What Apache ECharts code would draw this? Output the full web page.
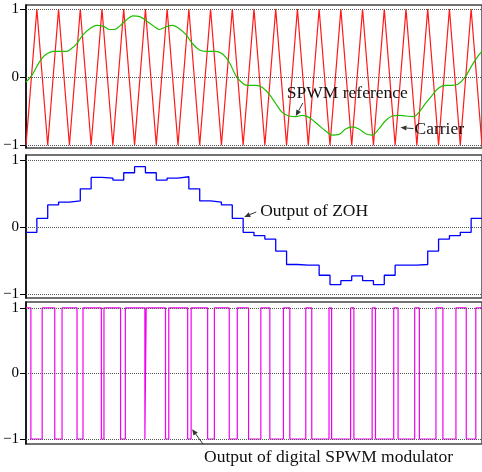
<!DOCTYPE html>
<html>
<head>
<meta charset="utf-8">
<script src="https://cdn.jsdelivr.net/npm/echarts@6/dist/echarts.min.js"></script>
<style>
  html, body { margin: 0; padding: 0; background: #fff; }
  #chart { width: 482px; height: 472px; }
</style>
</head>
<body>
<div id="chart"></div>
<script>
// Time is measured in half carrier periods (one unit per carrier ramp).
const tickValues = [-1, 0, 1];

// Triangular carrier: level at each half-period boundary.
const carrierLevels = [-1, 1, -1, 1, -1, 1, -1, 1, -1, 1, -1, 1, -1, 1, -1, 1, -1, 1, -1, 1, -1, 1,
  -1, 1, -1, 1, -1, 1, -1, 1, -1, 1, -1, 1, -1, 1, -1, 1, -1, 1, -1, 1, -1];

// SPWM reference waveform (time, value).
const refTime = [0, 0.51, 0.97, 1.43, 1.89, 2.50, 3.11, 3.73, 4.19, 4.65, 5.25, 5.87, 6.48, 7.09, 7.70,
  8.16, 8.62, 9.24, 9.84, 10.46, 11.07, 11.68, 12.30, 12.91, 13.52, 14.13, 14.75, 15.35, 15.97, 16.58,
  17.50, 18.11, 18.72, 19.34, 19.95, 20.40, 21.18, 21.78, 22.40, 23.01, 23.62, 24.23, 24.85, 25.45,
  26.07, 26.69, 26.99, 27.60, 28.21, 28.83, 29.44, 30.05, 30.66, 31.28, 31.88, 32.50, 33.11, 33.72,
  34.33, 34.95, 35.71, 36.17, 36.78, 37.39, 38.01, 38.59, 39.21, 39.82, 40.44, 41.06, 41.68, 42];
const refValue = [-0.07, 0.02, 0.15, 0.27, 0.34, 0.38, 0.38, 0.38, 0.42, 0.49, 0.62, 0.71, 0.76, 0.75, 0.70,
  0.70, 0.75, 0.84, 0.90, 0.89, 0.83, 0.76, 0.70, 0.74, 0.76, 0.71, 0.62, 0.49, 0.40, 0.38,
  0.38, 0.34, 0.22, 0.02, -0.09, -0.12, -0.12, -0.15, -0.25, -0.39, -0.52, -0.57, -0.58, -0.56,
  -0.59, -0.67, -0.71, -0.79, -0.85, -0.84, -0.76, -0.73, -0.76, -0.83, -0.85, -0.76, -0.64, -0.57,
  -0.56, -0.57, -0.58, -0.52, -0.39, -0.27, -0.16, -0.12, -0.12, -0.10, 0.0, 0.17, 0.32, 0.38];

// Zero-order-hold samples, one per half carrier period.
const zohValues = [-0.08, 0.13, 0.33, 0.37, 0.39, 0.57, 0.74, 0.73, 0.70, 0.81, 0.90, 0.81, 0.70, 0.73,
  0.75, 0.57, 0.39, 0.37, 0.33, 0.13, -0.08, -0.13, -0.18, -0.36, -0.56, -0.57, -0.57, -0.72, -0.86,
  -0.80, -0.73, -0.80, -0.86, -0.72, -0.57, -0.57, -0.56, -0.36, -0.18, -0.13, -0.08, 0.13];

// Switching instants of the digital SPWM output (starts high, toggles at each edge).
const pwmStartLevel = 1;
const pwmEdges = [0.45, 1.49, 2.65, 3.32, 4.70, 5.25, 6.94, 7.18, 8.71, 9.15, 10.95, 11.07, 12.85, 13.15,
  14.89, 15.21, 16.73, 17.35, 18.72, 19.46, 20.50, 21.63, 22.46, 23.71, 24.30, 25.77, 26.32, 27.91,
  28.15, 29.90, 30.20, 31.88, 32.19, 33.87, 34.27, 35.80, 36.23, 37.76, 38.40, 39.60, 40.55, 41.43];

const tEnd = carrierLevels.length - 1;

const carrierData = carrierLevels.map((v, i) => [i, v]);
const refData = refTime.map((t, i) => [t, refValue[i]]);
const zohData = zohValues.map((v, i) => [i, v]).concat([[tEnd, zohValues[zohValues.length - 1]]]);
const pwmData = [[0, pwmStartLevel]];
let level = pwmStartLevel;
pwmEdges.forEach(t => { level = -level; pwmData.push([t, level]); });
pwmData.push([tEnd, level]);

const serif = 'Liberation Serif';

function gridLines() {
  return {
    silent: true,
    symbol: 'none',
    animation: false,
    label: { show: false },
    lineStyle: { type: 'dotted', color: '#555', width: 1 },
    data: tickValues.map(v => ({ yAxis: v }))
  };
}

function yAxisFor(gridIndex, min, max) {
  return {
    type: 'value', gridIndex, min, max,
    axisLine: { show: true, lineStyle: { color: '#000', width: 1.5 } },
    axisTick: { show: true, customValues: tickValues, length: 6, lineStyle: { color: '#000', width: 1 } },
    axisLabel: {
      customValues: tickValues, margin: 7, color: '#000',
      fontFamily: serif, fontSize: 15,
      formatter: v => (v < 0 ? '\u2212' + Math.abs(v) : String(v))
    },
    splitLine: { show: false }
  };
}

function xAxisFor(gridIndex) {
  return { type: 'value', gridIndex, min: 0, max: tEnd, show: false };
}

const chart = echarts.init(document.getElementById('chart'), null, { renderer: 'canvas' });

const gridBase = { left: 26, right: -2, show: true, borderColor: '#444', borderWidth: 1.5 };

chart.setOption({
  animation: false,
  backgroundColor: '#fff',
  grid: [
    Object.assign({ top: 5, height: 143 }, gridBase),
    Object.assign({ top: 155, height: 143 }, gridBase),
    Object.assign({ top: 302, height: 142 }, gridBase)
  ],
  xAxis: [xAxisFor(0), xAxisFor(1), xAxisFor(2)],
  yAxis: [yAxisFor(0, -1.04, 1.06), yAxisFor(1, -1.06, 1.075), yAxisFor(2, -1.076, 1.09)],
  series: [
    {
      name: 'Carrier', type: 'line', xAxisIndex: 0, yAxisIndex: 0,
      data: carrierData, showSymbol: false,
      lineStyle: { color: '#ff1a1a', width: 1.2 },
      markLine: gridLines(), z: 2
    },
    {
      name: 'SPWM reference', type: 'line', xAxisIndex: 0, yAxisIndex: 0,
      data: refData, showSymbol: false, smooth: 0.35,
      lineStyle: { color: '#1fbf00', width: 1.2 }, z: 3
    },
    {
      name: 'Output of ZOH', type: 'line', xAxisIndex: 1, yAxisIndex: 1,
      data: zohData, step: 'end', showSymbol: false,
      lineStyle: { color: '#0000ff', width: 1.3 },
      markLine: gridLines(), z: 3
    },
    {
      name: 'Output of digital SPWM modulator', type: 'line', xAxisIndex: 2, yAxisIndex: 2,
      data: pwmData, step: 'end', showSymbol: false,
      lineStyle: { color: '#f000f0', width: 1.2 },
      markLine: gridLines(), z: 3
    }
  ]
});

// Callouts: arrow tip in data coordinates, tail and text offsets in pixels.
const callouts = [
  { grid: 0, tip: [24.85, -0.57], tail: [7, -13], text: 'SPWM reference', textAt: [-9, -23] },
  { grid: 0, tip: [34.49, -0.74], tail: [13, 1], text: 'Carrier', textAt: [14, 2] },
  { grid: 1, tip: [20.1, 0.15], tail: [12, -5], text: 'Output of ZOH', textAt: [16, -6] },
  { grid: 2, tip: [15.3, -0.85], tail: [11, 15], text: 'Output of digital SPWM modulator', textAt: [12, 28] }
];

const graphics = [];
callouts.forEach(c => {
  const p = chart.convertToPixel({ gridIndex: c.grid }, c.tip);
  const tx = p[0] + c.tail[0], ty = p[1] + c.tail[1];
  const dx = p[0] - tx, dy = p[1] - ty;
  const len = Math.sqrt(dx * dx + dy * dy);
  const ux = dx / len, uy = dy / len;
  const hl = 6, hw = 2.6;
  const bx = p[0] - ux * hl, by = p[1] - uy * hl;
  graphics.push({
    type: 'line', silent: true, z: 10,
    shape: { x1: tx, y1: ty, x2: bx, y2: by },
    style: { stroke: '#333', lineWidth: 1 }
  });
  graphics.push({
    type: 'polygon', silent: true, z: 10,
    shape: { points: [[p[0], p[1]], [bx - uy * hw, by + ux * hw], [bx + uy * hw, by - ux * hw]] },
    style: { fill: '#333' }
  });
  graphics.push({
    type: 'text', silent: true, z: 10,
    x: p[0] + c.textAt[0], y: p[1] + c.textAt[1],
    style: {
      text: c.text, fill: '#111', font: '17.5px "' + serif + '"',
      textAlign: 'left', textVerticalAlign: 'middle'
    }
  });
});
chart.setOption({ graphic: graphics });
</script>
</body>
</html>
